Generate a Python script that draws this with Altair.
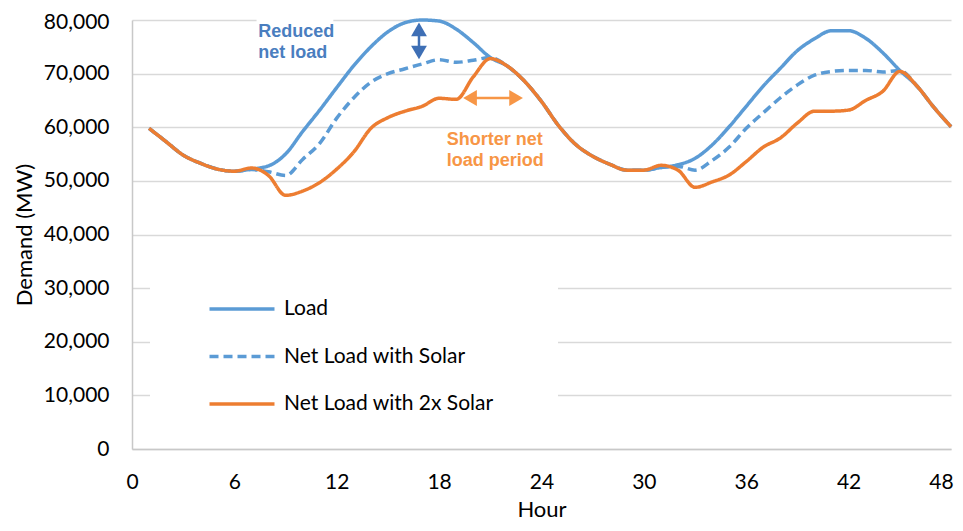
import altair as alt
import pandas as pd

hours = list(range(1, 49))

load = [59800, 57300, 54800, 53300, 52200, 51800, 52200, 52800, 55000, 59200,
        63200, 67400, 71500, 75000, 77800, 79500, 80000, 79800, 78300, 75800,
        73000, 71400, 68600, 64800, 60300, 56800, 54600, 53100, 52000, 52000,
        52500, 53000, 54200, 56700, 60100, 63900, 67700, 71000, 74300, 76500,
        78000, 78000, 76600, 73900, 70600, 67700, 63700, 60100]

net_solar = [59800, 57300, 54800, 53300, 52200, 51800, 52100, 51700, 51000, 54000,
             57000, 61700, 65500, 68400, 70000, 70900, 71800, 72600, 72100, 72500,
             73000, 71400, 68600, 64800, 60300, 56800, 54600, 53100, 52000, 52000,
             52500, 52700, 52000, 53800, 56300, 59800, 62700, 65500, 67900, 69700,
             70400, 70600, 70600, 70300, 70600, 67700, 63700, 60100]

net_2x = [59800, 57300, 54800, 53300, 52200, 51800, 52400, 51000, 47300, 48100,
          49700, 52200, 55400, 59800, 61800, 63000, 63900, 65400, 65200, 69400,
          72800, 71400, 68600, 64800, 60300, 56800, 54600, 53100, 52000, 52000,
          52900, 52000, 48800, 49800, 51100, 53600, 56300, 58000, 60800, 63000,
          63000, 63200, 65000, 66700, 70400, 67700, 63700, 60100]

series_names = ["Load", "Net Load with Solar", "Net Load with 2x Solar"]
series_colors = ["#5B9BD5", "#5B9BD5", "#ED7D31"]
series_dash = [[1, 0], [9, 5], [1, 0]]

x_ticks = [0, 6, 12, 18, 24, 30, 36, 42, 48]
y_ticks = [0, 10000, 20000, 30000, 40000, 50000, 60000, 70000, 80000]

# annotations
blue_text = ["Reduced", "net load"]
blue_text_hour = [7.4, 7.4]
blue_text_value = [77760, 73850]
blue_box_hour = [7.3, 11.8]
blue_box_value = [72500, 81500]
blue_arrow_hour = 16.82
blue_arrow_value = [78260, 73940]

orange_text = ["Shorter net", "load period"]
orange_text_hour = [18.45, 18.45]
orange_text_value = [57620, 53700]
orange_arrow_hour = [19.81, 22.51]
orange_arrow_value = 65450

rows = []
for name, vals in zip(series_names, [load, net_solar, net_2x]):
    for h, v in zip(hours, vals):
        rows.append({"hour": h, "value": v, "series": name})
df = pd.DataFrame(rows)

xscale = alt.Scale(domain=[0, 48], nice=False, zero=False)
yscale = alt.Scale(domain=[0, 80000], nice=False)

xaxis = alt.Axis(values=x_ticks, title="Hour", grid=False, ticks=False, tickSize=0,
                 labelFlush=False, labelPadding=22, labelFont="Lato", labelFontSize=21,
                 labelColor="black",
                 labelOffset=alt.condition("datum.value == 48", alt.value(-10), alt.value(0)),
                 titleFont="Lato", titleFontSize=22, titleFontWeight="normal", titleColor="black",
                 titleY=60, titleBaseline="middle",
                 domainColor="#c8c8c8", domainWidth=1.5)
yaxis = alt.Axis(values=y_ticks, title="Demand (MW)", format=",.0f", grid=True,
                 gridColor="#d9d9d9", gridWidth=1.5, ticks=False, tickSize=0,
                 labelFlush=False, labelPadding=23, labelFont="Lato", labelFontSize=21,
                 labelColor="black",
                 labelOffset=alt.condition("datum.value == 80000", alt.value(2), alt.value(0)),
                 titleFont="Lato", titleFontSize=22, titleFontWeight="normal", titleColor="black",
                 titleX=-108, titleBaseline="middle",
                 domainColor="#c8c8c8", domainWidth=1.5)

X = lambda f: alt.X(f, scale=xscale, axis=xaxis)
Y = lambda f: alt.Y(f, scale=yscale, axis=yaxis)

color = alt.Color("series:N", scale=alt.Scale(domain=series_names, range=series_colors),
                  legend=alt.Legend(title=" "))
dash = alt.StrokeDash("series:N", scale=alt.Scale(domain=series_names, range=series_dash),
                      legend=alt.Legend(title=" "))

base = alt.Chart(df).mark_line(interpolate="monotone", strokeWidth=3.5).encode(
    x=X("hour:Q"), y=Y("value:Q"), color=color, strokeDash=dash,
)
line_layers = [base.transform_filter(alt.datum.series == s) for s in series_names]

box_df = pd.DataFrame({"h1": [blue_box_hour[0]], "h2": [blue_box_hour[1]],
                       "v1": [blue_box_value[0]], "v2": [blue_box_value[1]]})
box = alt.Chart(box_df).mark_rect(color="white").encode(
    x=X("h1:Q"), x2="h2:Q", y=Y("v1:Q"), y2="v2:Q")

btext = alt.Chart(pd.DataFrame({"t": blue_text, "h": blue_text_hour, "v": blue_text_value})).mark_text(
    font="Liberation Sans", fontWeight="bold", fontSize=18, align="left", baseline="middle",
    color="#4A7EBF").encode(x=X("h:Q"), y=Y("v:Q"), text="t:N")

otext = alt.Chart(pd.DataFrame({"t": orange_text, "h": orange_text_hour, "v": orange_text_value})).mark_text(
    font="Liberation Sans", fontWeight="bold", fontSize=18, align="left", baseline="middle",
    color="#F79646").encode(x=X("h:Q"), y=Y("v:Q"), text="t:N")

arrow_blue_col = "#3E6FB5"
barrow_df = pd.DataFrame({"h": [blue_arrow_hour], "v1": [blue_arrow_value[0]], "v2": [blue_arrow_value[1]]})
brule = alt.Chart(barrow_df).mark_rule(color=arrow_blue_col, strokeWidth=2.5).encode(
    x=X("h:Q"), y=Y("v1:Q"), y2="v2:Q")
bhead_df = pd.DataFrame({"h": [blue_arrow_hour, blue_arrow_hour], "v": blue_arrow_value,
                         "shape": ["triangle-up", "triangle-down"]})
bheads = alt.Chart(bhead_df).mark_point(filled=True, size=250, color=arrow_blue_col, opacity=1).encode(
    x=X("h:Q"), y=Y("v:Q"), shape=alt.Shape("shape:N", scale=None, legend=None))

oarrow_df = pd.DataFrame({"h1": [orange_arrow_hour[0]], "h2": [orange_arrow_hour[1]], "v": [orange_arrow_value]})
orule = alt.Chart(oarrow_df).mark_rule(color="#F79646", strokeWidth=2.5).encode(
    x=X("h1:Q"), x2="h2:Q", y=Y("v:Q"))
ohead_df = pd.DataFrame({"h": orange_arrow_hour, "v": [orange_arrow_value, orange_arrow_value],
                         "shape": ["triangle-left", "triangle-right"]})
oheads = alt.Chart(ohead_df).mark_point(filled=True, size=250, color="#F79646", opacity=1).encode(
    x=X("h:Q"), y=Y("v:Q"), shape=alt.Shape("shape:N", scale=None, legend=None))

chart = alt.layer(box, *line_layers, btext, otext, brule, bheads, orule, oheads).properties(
    width=819, height=429,
    autosize=alt.AutoSizeParams(type="none"),
    padding={"left": 124, "top": 12, "right": 4, "bottom": 72},
).configure_view(stroke=None).configure_legend(
    orient="none", legendX=18, legendY=253, padding=18, fillColor="white",
    symbolType="M-2,0H2", symbolSize=1056, symbolStrokeWidth=3.5,
    symbolOffset=56, labelOffset=24, rowPadding=19.5,
    labelFont="Lato", labelFontSize=21, labelColor="black", labelLimit=400,
    titleOrient="right", titlePadding=46, titleColor="white", titleFontSize=10,
)

chart.save("out.html", embed_options={"renderer": "svg", "actions": False})
